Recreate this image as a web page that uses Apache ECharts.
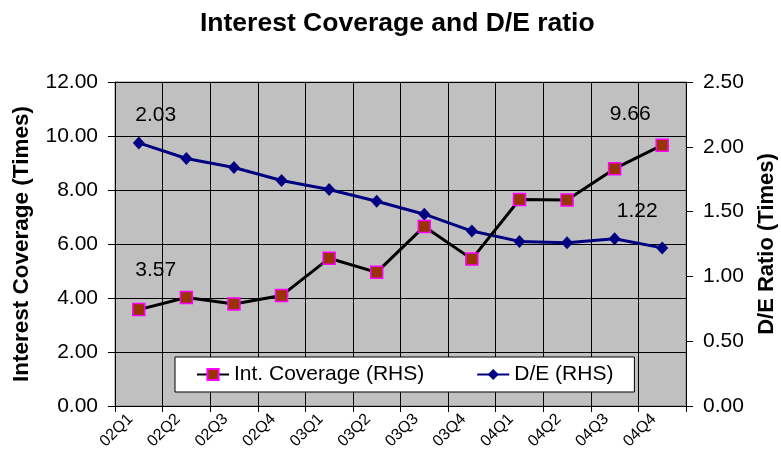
<!DOCTYPE html>
<html>
<head>
<meta charset="utf-8">
<script src="https://cdn.jsdelivr.net/npm/echarts@6/dist/echarts.min.js"></script>
<style>
  html, body { margin: 0; padding: 0; background: #fff; }
  #chart { width: 781px; height: 464px; }
</style>
</head>
<body>
<div id="chart"></div>
<script>
// Quarterly periods
var quarters = ['02Q1', '02Q2', '02Q3', '02Q4', '03Q1', '03Q2', '03Q3', '03Q4', '04Q1', '04Q2', '04Q3', '04Q4'];
// Interest coverage (times), left axis
var interestCoverage = [3.57, 4.02, 3.78, 4.09, 5.47, 4.95, 6.65, 5.44, 7.65, 7.63, 8.79, 9.66];
// Debt / equity ratio (times), right axis
var debtEquity = [2.03, 1.91, 1.84, 1.74, 1.67, 1.58, 1.48, 1.35, 1.27, 1.26, 1.29, 1.22];

var FONT = '"Liberation Sans", Arial, sans-serif';

// Value callouts for the first and last quarter of each series
function withCallouts(values, firstOffset, lastOffset) {
  return values.map(function (v, i) {
    var item = { value: v };
    var off = i === 0 ? firstOffset : (i === values.length - 1 ? lastOffset : null);
    if (off) {
      item.label = {
        show: true,
        position: 'inside',
        offset: off,
        formatter: function (p) { return p.value.toFixed(2); },
        color: '#000',
        fontSize: 21,
        fontFamily: FONT
      };
    }
    return item;
  });
}

var chart = echarts.init(document.getElementById('chart'), null, { renderer: 'canvas' });

chart.setOption({
  animation: false,
  backgroundColor: '#ffffff',
  textStyle: { fontFamily: FONT, color: '#000' },
  title: {
    text: 'Interest Coverage and D/E ratio',
    left: 195,
    top: 5,
    textStyle: { fontFamily: FONT, fontSize: 26.5, fontWeight: 'bold', color: '#000' }
  },
  legend: {
    top: 357,
    left: 175,
    padding: [7, 21],
    itemGap: 52,
    itemWidth: 32,
    itemHeight: 14,
    backgroundColor: '#ffffff',
    borderColor: '#000',
    borderWidth: 1,
    borderRadius: 0,
    textStyle: { fontFamily: FONT, fontSize: 21, color: '#000' },
    data: ['Int. Coverage (RHS)', 'D/E (RHS)']
  },
  grid: {
    left: 115,
    right: 95,
    top: 82,
    bottom: 58,
    containLabel: false,
    outerBoundsMode: 'none',
    show: true,
    backgroundColor: '#C0C0C0',
    borderColor: '#808080',
    borderWidth: 1
  },
  xAxis: {
    type: 'category',
    data: quarters,
    boundaryGap: true,
    axisLine: { lineStyle: { color: '#000', width: 1 } },
    axisTick: { show: true, interval: 0, length: 6, lineStyle: { color: '#000' } },
    axisLabel: {
      interval: 0, rotate: 45, margin: 2, padding: [0, 12, 0, 0],
      fontSize: 16, fontFamily: FONT, color: '#000'
    },
    splitLine: { show: true, interval: 0, lineStyle: { color: '#000', width: 1 } }
  },
  yAxis: [
    {
      type: 'value',
      position: 'left',
      min: 0,
      max: 12,
      interval: 2,
      name: 'Interest Coverage (Times)',
      nameLocation: 'middle',
      nameGap: 82,
      nameRotate: 90,
      nameTextStyle: { fontFamily: FONT, fontSize: 22.5, fontWeight: 'bold', color: '#000' },
      axisLine: { show: true, lineStyle: { color: '#000', width: 1 } },
      axisTick: { show: true, length: 7, lineStyle: { color: '#000' } },
      axisLabel: {
        margin: 17, fontSize: 21, fontFamily: FONT, color: '#000',
        formatter: function (v) { return v.toFixed(2); }
      },
      splitLine: { show: true, lineStyle: { color: '#000', width: 1 } }
    },
    {
      type: 'value',
      position: 'right',
      min: 0,
      max: 2.5,
      interval: 0.5,
      name: 'D/E Ratio (Times)',
      nameLocation: 'middle',
      nameGap: 70,
      nameRotate: 90,
      nameTextStyle: { fontFamily: FONT, fontSize: 22, fontWeight: 'bold', color: '#000' },
      axisLine: { show: true, lineStyle: { color: '#000', width: 1 } },
      axisTick: { show: true, length: 7, lineStyle: { color: '#000' } },
      axisLabel: {
        margin: 17, fontSize: 21, fontFamily: FONT, color: '#000',
        formatter: function (v) { return v.toFixed(2); }
      },
      splitLine: { show: false }
    }
  ],
  series: [
    {
      name: 'Int. Coverage (RHS)',
      type: 'line',
      yAxisIndex: 0,
      data: withCallouts(interestCoverage, [17, -39], [-32, -31]),
      symbol: 'rect',
      symbolSize: 12,
      lineStyle: { color: '#000', width: 3 },
      itemStyle: { color: '#993300', borderColor: '#FF00FF', borderWidth: 1.5 },
      z: 3
    },
    {
      name: 'D/E (RHS)',
      type: 'line',
      yAxisIndex: 1,
      data: withCallouts(debtEquity, [17, -28], [-25, -37]),
      symbol: 'diamond',
      symbolSize: [12, 13],
      lineStyle: { color: '#000080', width: 3 },
      itemStyle: { color: '#000080', borderColor: '#000080', borderWidth: 0 },
      z: 2
    }
  ]
});
</script>
</body>
</html>
